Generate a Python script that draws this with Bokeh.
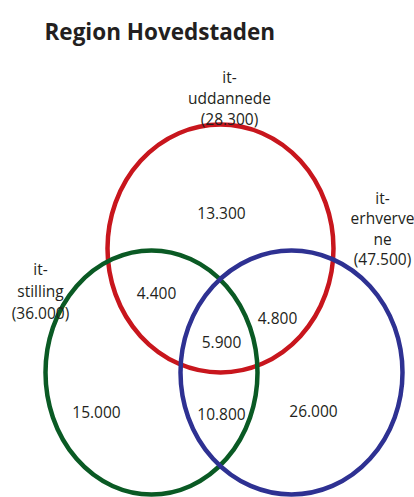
from bokeh.plotting import figure
from bokeh.models import Range1d, ColumnDataSource
from bokeh.core.properties import value
from bokeh.embed import file_html
from bokeh.resources import INLINE

# ---- data ----
title_text = "Region Hovedstaden"
set_names = ["it-\nuddannede", "it-\nstilling", "it-\nerhverve\nne"]
set_totals = [28300, 36000, 47500]
set_colors = ["#c8161d", "#0a5a24", "#2e3192"]
region_names = ["kun uddannede", "uddannede+stilling", "uddannede+erhverv",
                "alle tre", "kun stilling", "stilling+erhverv", "kun erhverv"]
region_values = [13300, 4400, 4800, 5900, 15000, 10800, 26000]

def fmt(v):
    return f"{v:,}".replace(",", ".")

# ---- layout (screen-pixel coordinates) ----
W, H = 414, 497
p = figure(width=W, height=H, output_backend="svg", toolbar_location=None,
           x_range=Range1d(0, W), y_range=Range1d(H, 0),
           x_axis_type=None, y_axis_type=None, min_border=0,
           outline_line_color=None, background_fill_color="white")
p.grid.visible = False

# circles
cx = [220, 151, 291]
cy = [248, 372, 372]
cw = [226, 212, 222]
ch = [248, 244, 244]
p.ellipse(x=cx, y=cy, width=cw, height=ch, fill_alpha=0,
          line_color=set_colors, line_width=4.5)

txt_color = "#231f20"
font = value("Open Sans")

# set labels
label_x = [229, 40, 382]
label_y0 = [76, 268, 197]
line_h = [21, 22, 20.5]
lx, ly, lt = [], [], []
for name, total, x0, y0, dh in zip(set_names, set_totals, label_x, label_y0, line_h):
    lines = name.split("\n") + [f"({fmt(total)})"]
    for i, ln in enumerate(lines):
        lx.append(x0)
        ly.append(y0 + i * dh)
        lt.append(ln)
p.text(x=lx, y=ly, text=lt, text_align="center", text_baseline="alphabetic",
       text_font=font, text_font_size="15.5px", text_color=txt_color)

# region values
rx = [221, 156, 277, 221, 96, 221, 313]
ry = [212, 292, 317, 341, 411, 413, 410]
src = ColumnDataSource(dict(x=rx, y=ry, t=[fmt(v) for v in region_values]))
p.text(x="x", y="y", text="t", source=src, text_align="center",
       text_baseline="alphabetic", text_font=font, text_font_size="15.5px",
       text_color=txt_color)

# title
p.text(x=[44], y=[31], text=[title_text], text_align="left",
       text_baseline="alphabetic", text_font=font, text_font_size="22.5px",
       text_font_style="bold", text_color=txt_color)

open("out.html", "w").write(file_html(p, INLINE))
